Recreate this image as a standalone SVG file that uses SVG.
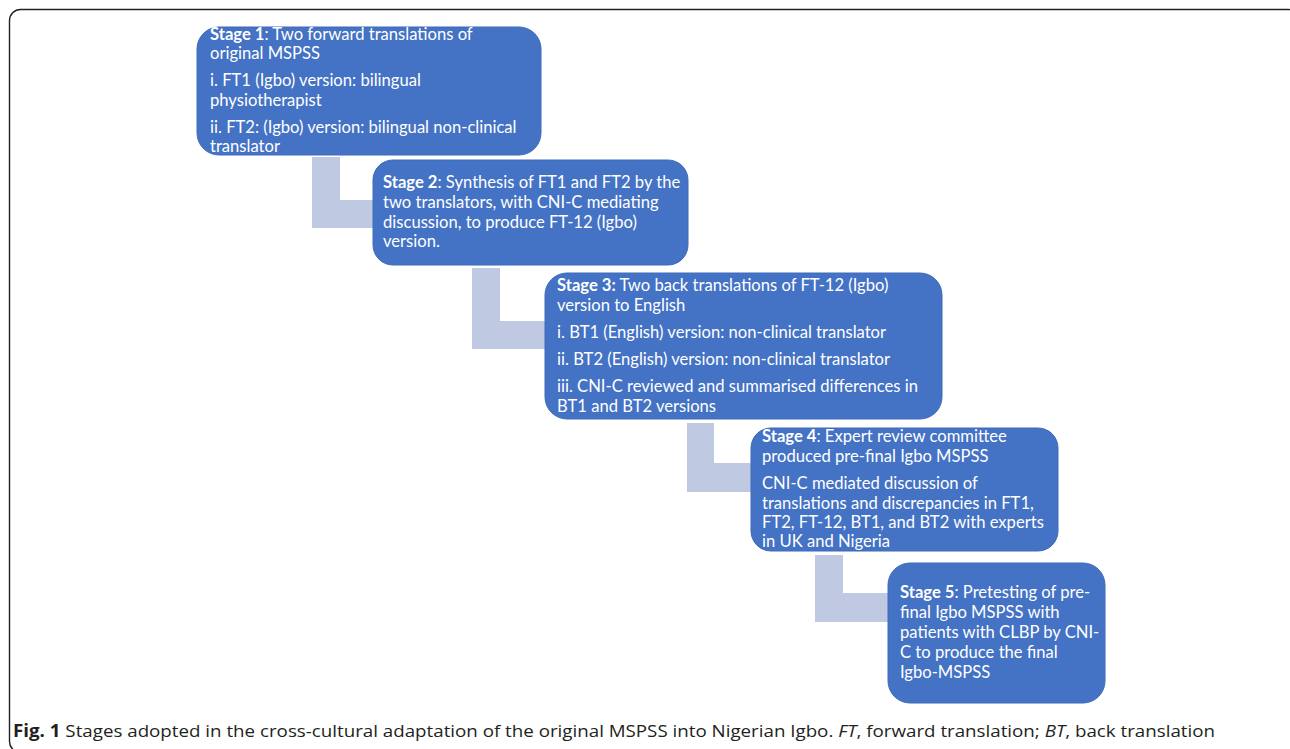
<svg xmlns="http://www.w3.org/2000/svg" width="1290" height="749" viewBox="0 0 1290 749">
<style>
.box{fill:#4472C4;stroke:#3F6AB8;stroke-width:1}
.conn{fill:#C0C9E2}
.t{font-family:Lato,"Open Sans","Liberation Sans",sans-serif;font-size:16.6px;fill:#ffffff}
.b{font-weight:bold}
.cap{font-family:"Open Sans","Liberation Sans",sans-serif;font-size:17px;fill:#231F20}
</style>
<rect x="9.5" y="9.5" width="1290" height="743" rx="11" fill="#ffffff" stroke="#222222" stroke-width="1.4"/>
<g id="connectors">
<path class="conn" d="M312 157 H340 V200 H375 V228 H312 Z"/>
<path class="conn" d="M472 268 H500 V321 H547 V349 H472 Z"/>
<path class="conn" d="M687 423 H714 V463 H753 V492 H687 Z"/>
<path class="conn" d="M815 555 H843 V593 H890 V622 H815 Z"/>
</g>
<g id="stage1">
<rect class="box" x="197" y="27" width="344" height="128" rx="22"/>
<text class="t" x="210" y="40"><tspan class="b">Stage 1</tspan>: Two forward translations of</text>
<text class="t" x="210" y="59">original MSPSS</text>
<text class="t" x="210" y="86">i. FT1 (Igbo) version: bilingual</text>
<text class="t" x="210" y="106">physiotherapist</text>
<text class="t" x="210" y="133">ii. FT2: (Igbo) version: bilingual non-clinical</text>
<text class="t" x="210" y="152">translator</text>
</g>
<g id="stage2">
<rect class="box" x="373" y="160" width="315" height="105" rx="20"/>
<text class="t" x="383" y="188"><tspan class="b">Stage 2</tspan>: Synthesis of FT1 and FT2 by the</text>
<text class="t" x="383" y="208">two translators, with CNI-C mediating</text>
<text class="t" x="383" y="228">discussion, to produce FT-12 (Igbo)</text>
<text class="t" x="383" y="247">version.</text>
</g>
<g id="stage3">
<rect class="box" x="545" y="273" width="397" height="146" rx="22"/>
<text class="t" x="557" y="291"><tspan class="b">Stage 3:</tspan> Two back translations of FT-12 (Igbo)</text>
<text class="t" x="557" y="311">version to English</text>
<text class="t" x="557" y="338">i. BT1 (English) version: non-clinical translator</text>
<text class="t" x="557" y="365">ii. BT2 (English) version: non-clinical translator</text>
<text class="t" x="557" y="392">iii. CNI-C reviewed and summarised differences in</text>
<text class="t" x="557" y="412">BT1 and BT2 versions</text>
</g>
<g id="stage4">
<rect class="box" x="751" y="428" width="307" height="123" rx="20"/>
<text class="t" x="762" y="442"><tspan class="b">Stage 4</tspan>: Expert review committee</text>
<text class="t" x="762" y="462">produced pre-final Igbo MSPSS</text>
<text class="t" x="762" y="489">CNI-C mediated discussion of</text>
<text class="t" x="762" y="509">translations and discrepancies in FT1,</text>
<text class="t" x="762" y="528">FT2, FT-12, BT1, and BT2 with experts</text>
<text class="t" x="762" y="547">in UK and Nigeria</text>
</g>
<g id="stage5">
<rect class="box" x="888" y="563" width="217" height="140" rx="22"/>
<text class="t" x="900" y="598"><tspan class="b">Stage 5</tspan>: Pretesting of pre-</text>
<text class="t" x="900" y="618">final Igbo MSPSS with</text>
<text class="t" x="900" y="638">patients with CLBP by CNI-</text>
<text class="t" x="900" y="658">C to produce the final</text>
<text class="t" x="900" y="678">Igbo-MSPSS</text>
</g>
<text class="cap" x="13" y="737" textLength="1202" lengthAdjust="spacingAndGlyphs"><tspan font-weight="bold">Fig. 1</tspan> Stages adopted in the cross-cultural adaptation of the original MSPSS into Nigerian Igbo. <tspan font-style="italic">FT</tspan>, forward translation; <tspan font-style="italic">BT</tspan>, back translation</text>
</svg>
